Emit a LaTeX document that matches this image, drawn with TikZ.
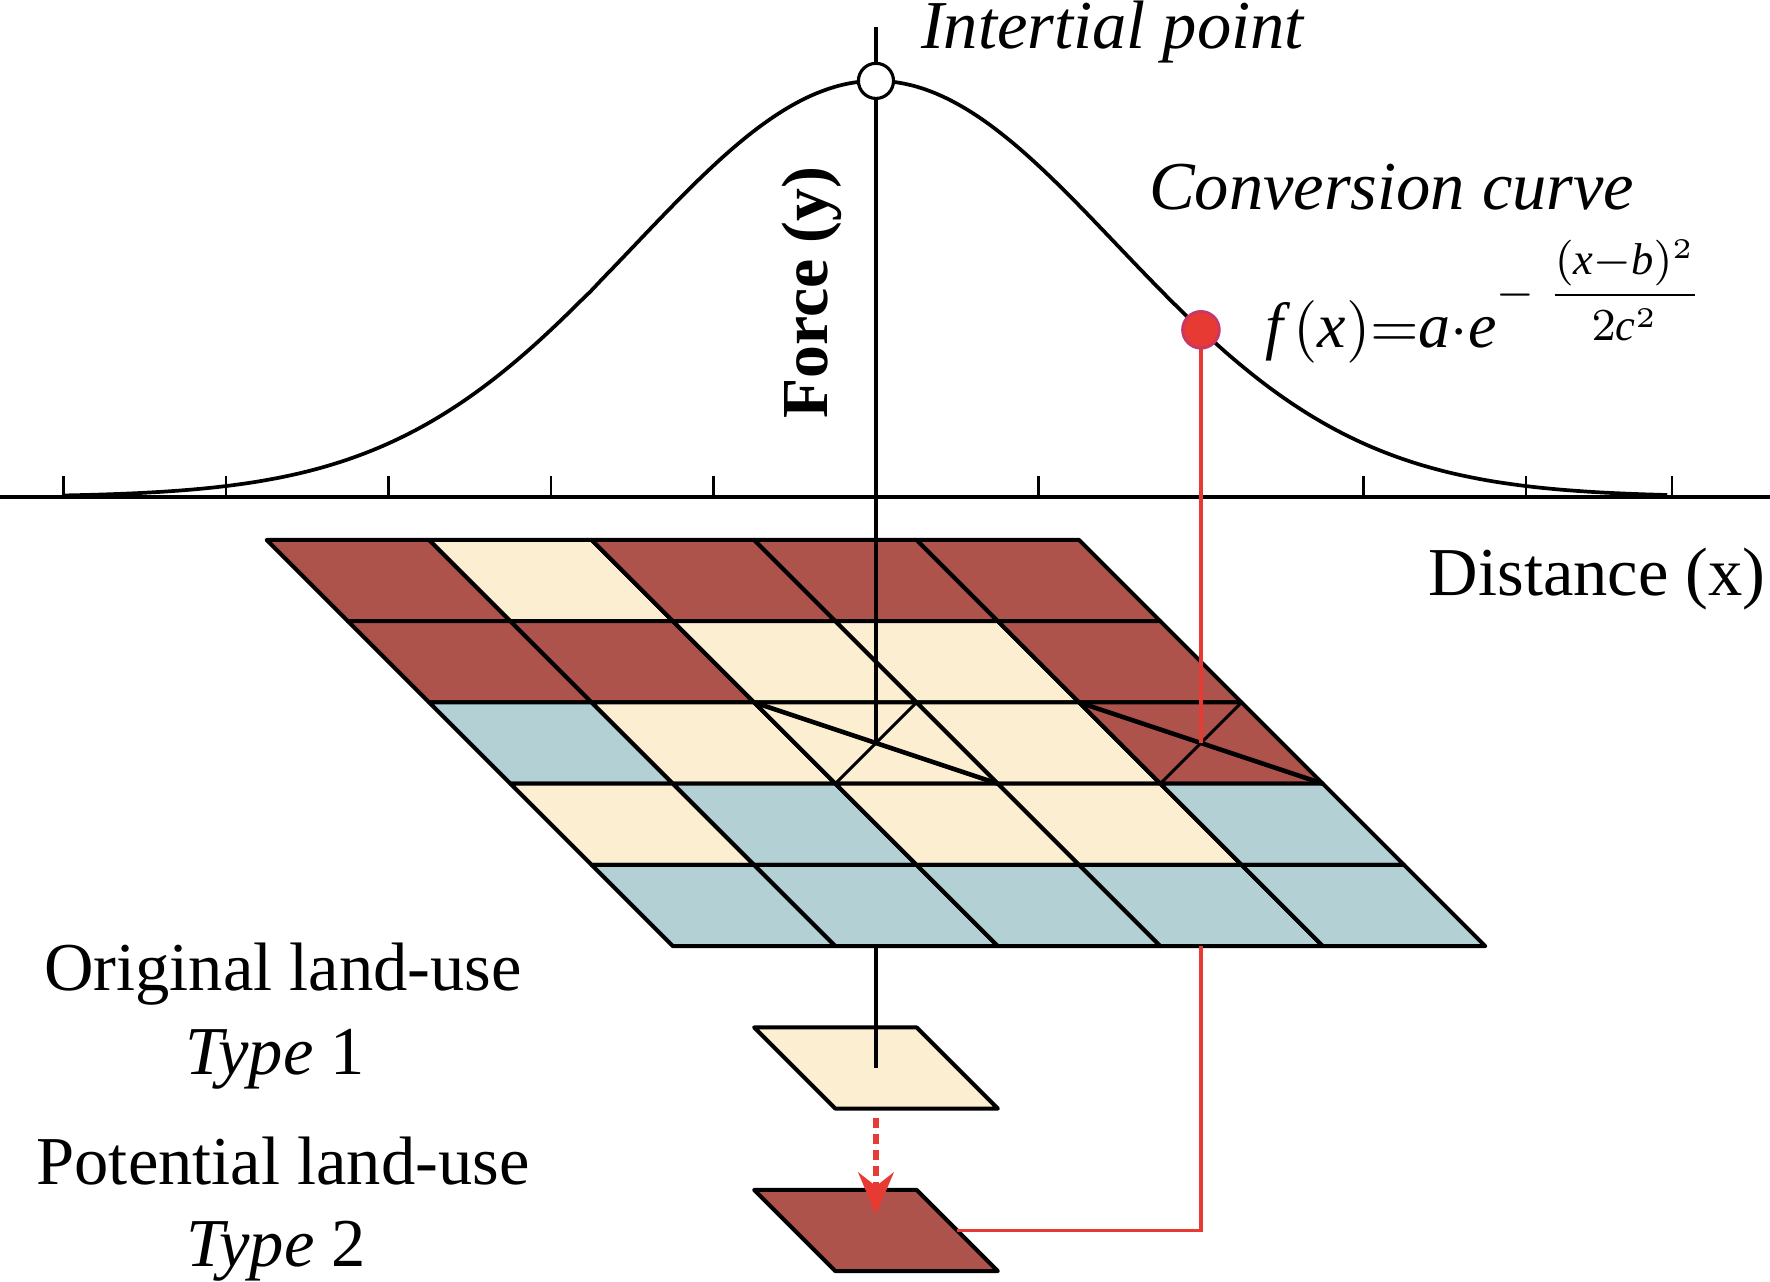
\documentclass[tikz,border=0pt]{standalone}
\usepackage{amsmath}
\usepackage{fontspec}
\setmainfont{Liberation Serif}
\usetikzlibrary{arrows.meta}

\definecolor{landred}{RGB}{174,83,76}
\definecolor{landcream}{RGB}{252,239,209}
\definecolor{landblue}{RGB}{179,208,213}
\definecolor{linered}{RGB}{230,58,50}
\definecolor{dotrim}{RGB}{200,55,105}

\begin{document}
\begin{tikzpicture}[x=1cm, y=1cm,
    cell/.style={line width=0.7pt, line join=round},
    lbl/.style={font=\fontsize{12}{14}\selectfont, inner sep=1pt},
    lbli/.style={font=\fontsize{12}{14}\selectfont\itshape, inner sep=1pt},
    redline/.style={draw=linered, line width=0.55pt}]
    \useasboundingbox (-5.391,-4.831) rectangle (5.502,3.058);

    % krivka
    \draw[line width=0.65pt, domain=-5:4.87, samples=150, smooth]
        plot (\x,{2.56*exp(-\x*\x/4.386)});

    % osa x
    \draw[line width=0.8pt] (-5.391,0) -- (5.502,0);
    \foreach \t in {-5,-4,-3,-2,-1,1,3,4,4.9}
        \draw[line width=0.45pt] (\t,0) -- (\t,0.13);

    % mrizka
    \foreach \r/\cols in {0/{landred,landcream,landred,landred,landred},
                          1/{landred,landred,landcream,landcream,landred},
                          2/{landblue,landcream,landcream,landcream,landred},
                          3/{landcream,landblue,landcream,landcream,landblue},
                          4/{landblue,landblue,landblue,landblue,landblue}}
        \foreach \c [count=\i from 0] in \cols
            \filldraw[cell, fill=\c] ({-3.75+\i+0.5*\r},{-0.265-0.5*\r})
                -- ++(1,0) -- ++(0.5,-0.5) -- ++(-1,0) -- cycle;

    % uhlopricky
    \draw[line width=0.8pt] (-0.75,-1.265) -- (0.75,-1.765);
    \draw[line width=0.55pt] (0.25,-1.265) -- (-0.25,-1.765);
    \draw[line width=0.8pt] (1.25,-1.265) -- (2.75,-1.765);
    \draw[line width=0.55pt] (2.25,-1.265) -- (1.75,-1.765);

    \coordinate (top) at (0,2.892);
    \coordinate (mid) at (0,-1.515);
    \coordinate (hit) at (2,-1.515);
    \coordinate (gridbot) at (0,-2.765);
    \coordinate (redbot) at (2,-2.765);
    \coordinate (t1mid) at (0,-3.515);
    \coordinate (t2edge) at (0.5,-4.515);

    % typ 1 a typ 2
    \filldraw[cell, fill=landcream] (-0.75,-3.265) -- ++(1,0) -- ++(0.5,-0.5) -- ++(-1,0) -- cycle;
    \filldraw[cell, fill=landred] (-0.75,-4.265) -- ++(1,0) -- ++(0.5,-0.5) -- ++(-1,0) -- cycle;

    % spojnice
    \draw[line width=0.55pt] (top) -- (mid);
    \draw[line width=0.55pt] (gridbot) -- (t1mid);
    \draw[redline] (2,1.028) -- (hit);
    \draw[redline] (redbot) |- (t2edge);
    \draw[linered, line width=1pt, dash pattern=on 1.8pt off 1pt,
        -{Stealth[length=7.4pt, width=6.2pt, inset=2.4pt]}] (0,-3.822) -- (0,-4.418);

    \node[circle, draw, fill=white, line width=0.55pt, inner sep=0pt,
        minimum size=0.216cm] (peak) at (0,2.56) {};
    \node[circle, draw=dotrim, fill=linered, line width=0.5pt, inner sep=0pt,
        minimum size=0.226cm] (conv) at (2,1.028) {};

    % popisky
    \node[lbli, anchor=base west, inner sep=0pt] (peaklbl) at (0.271,2.76) {Intertial point};
    \node[lbli, anchor=base west, inner sep=0pt] (convlbl) at (1.674,1.766) {Conversion curve};
    \node[lbl, font=\fontsize{11.2}{14}\selectfont, anchor=base west, inner sep=0pt] (formula) at (2.388,0.917)
        {$\textit{f}\,(\textit{x}){=}\textit{a}{\cdot}\textit{e}^{-\;\text{\fontsize{7.8}{9}\selectfont$\displaystyle\frac{(\textit{x}{-}\textit{b})^{2}}{2\textit{c}^{2}}$}}$};
    \node[lbl, font=\fontsize{11.5}{14}\selectfont\bfseries, rotate=90, anchor=base west,
        inner sep=0pt] (force) at (-0.30,0.474) {Force (y)};
    \node[lbl, anchor=base east, inner sep=0pt] (dist) at (5.483,-0.609) {Distance (x)};
    \node[lbl, anchor=base] (orig) at (-3.649,-3.04) {Original land-use};
    \node[lbl, anchor=base] (type1) at (-3.698,-3.556) {\textit{Type} 1};
    \node[lbl, anchor=base] (pot) at (-3.649,-4.234) {Potential land-use};
    \node[lbl, anchor=base] (type2) at (-3.692,-4.738) {\textit{Type} 2};
\end{tikzpicture}
\end{document}
